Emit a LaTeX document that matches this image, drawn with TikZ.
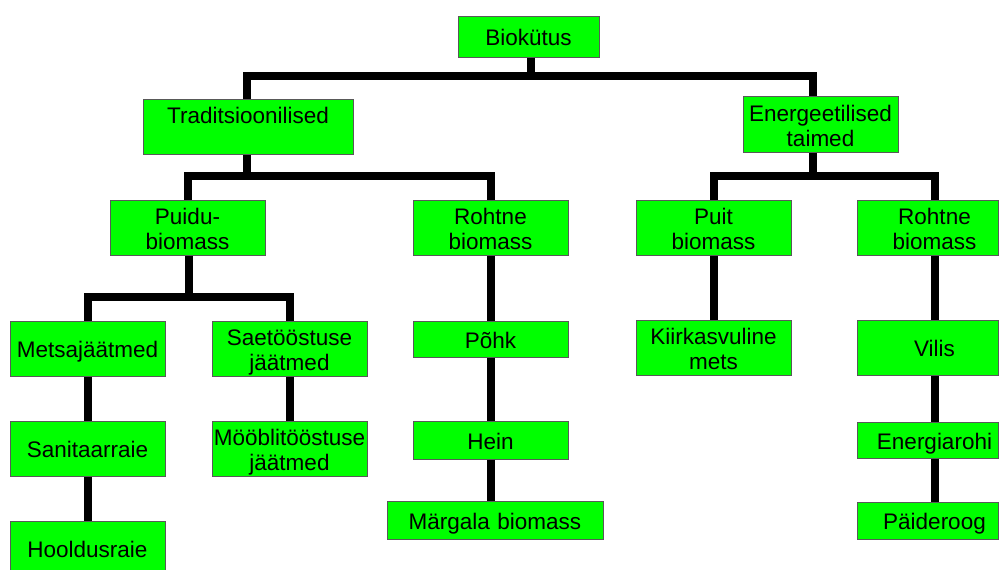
\documentclass[tikz,border=0pt]{standalone}
\usepackage{fontspec}
\setmainfont{Liberation Sans}
\begin{document}
\begin{tikzpicture}[x=1pt,y=-1pt,
  box/.style={draw=black!65, line width=1pt, fill=green!100, inner sep=0pt,
    text width=#1, align=center, font=\fontsize{22.5}{25}\selectfont},
  box/.default=155pt,
  oneline/.style={text height=20pt, text depth=2pt},
  twoline/.style={text height=21pt, text depth=27pt},
  link/.style={line width=8pt, draw=black}
]
\path[use as bounding box] (0,0) rectangle (999,570);
\fill[white] (0,0) rectangle (999,570);
\clip (0,0) rectangle (999,570);

% nodes
\node[box=141pt, oneline, minimum height=41pt] (bio) at (528.5,36.5) {Biokütus};
\node[box=210pt, twoline, minimum height=55pt] (trad) at (248,126.5) {Traditsioonilised\\\mbox{}};
\node[box, twoline, minimum height=56pt] (ener) at (820.5,124) {Energeetilised\\taimed};
\node[box, twoline, minimum height=55pt] (puidu) at (187.5,227.5) {Puidu-\\biomass};
\node[box, twoline, minimum height=55pt] (rohtL) at (490.5,227.5) {Rohtne\\biomass};
\node[box, twoline, minimum height=55pt] (puit) at (713.5,227.5) {Puit\\biomass};
\node[box=141pt, twoline, minimum height=55pt] (rohtR) at (927.5,227.5) {\hspace*{14pt}Rohtne\\\hspace*{14pt}biomass};
\node[box, oneline, minimum height=55pt] (mets) at (87.5,348.5) {Metsajäätmed};
\node[box, twoline, minimum height=55pt] (saet) at (289.5,348.5) {Saetööstuse\\jäätmed};
\node[box, oneline, minimum height=55pt] (sanit) at (87.5,448.5) {Sanitaarraie};
\node[box, twoline, minimum height=55pt] (moob) at (289.5,448.5) {Mööblitööstuse\\jäätmed};
\node[box, oneline, minimum height=55pt] (hool) at (87.5,548.5) {Hooldusraie};
\node[box, oneline, minimum height=36pt] (pohk) at (490.5,339) {Põhk};
\node[box, oneline, minimum height=38pt] (hein) at (490.5,440) {Hein};
\node[box=216pt, oneline, minimum height=38pt] (marg) at (495,520) {Märgala biomass};
\node[box, twoline, minimum height=55pt] (kiir) at (713.5,347.5) {Kiirkasvuline\\mets};
\node[box=141pt, oneline, minimum height=55pt] (vilis) at (927.5,347.5) {\hspace*{14pt}Vilis};
\node[box=141pt, oneline, minimum height=36pt] (energ) at (927.5,440) {\hspace*{14pt}Energiarohi};
\node[box=141pt, oneline, minimum height=37pt] (paid) at (927.5,520.5) {\hspace*{14pt}Päideroog};

% connectors
\coordinate (barTop) at (531,76);
\coordinate (barTrad) at (247,176);
\coordinate (barEner) at (813,176);
\coordinate (barPuidu) at (189,297);

\draw[link] ([xshift=2.5pt]bio.south) -- (barTop);
\draw[link] (barTop) -| ([xshift=-1pt]trad.north);
\draw[link] (barTop) -| ([xshift=-7.5pt]ener.north);

\draw[link] ([xshift=-1pt]trad.south) -- (barTrad);
\draw[link] (barTrad) -| (puidu.north);
\draw[link] (barTrad) -| (rohtL.north);

\draw[link] ([xshift=-7.5pt]ener.south) -- (barEner);
\draw[link] (barEner) -| (puit.north);
\draw[link] (barEner) -| ([xshift=7.5pt]rohtR.north);

\draw[link] ([xshift=1.5pt]puidu.south) -- (barPuidu);
\draw[link] (barPuidu) -| (mets.north);
\draw[link] (barPuidu) -| (saet.north);

\draw[link] (mets) -- (sanit);
\draw[link] (sanit) -- (hool);
\draw[link] (saet) -- (moob);
\draw[link] (rohtL) -- (pohk);
\draw[link] (pohk) -- (hein);
\draw[link] (hein.south) -- (hein.south |- marg.north);
\draw[link] (puit) -- (kiir);
\draw[link] ([xshift=7.5pt]rohtR.south) -- ([xshift=7.5pt]vilis.north);
\draw[link] ([xshift=7.5pt]vilis.south) -- ([xshift=7.5pt]energ.north);
\draw[link] ([xshift=7.5pt]energ.south) -- ([xshift=7.5pt]paid.north);
\end{tikzpicture}
\end{document}
